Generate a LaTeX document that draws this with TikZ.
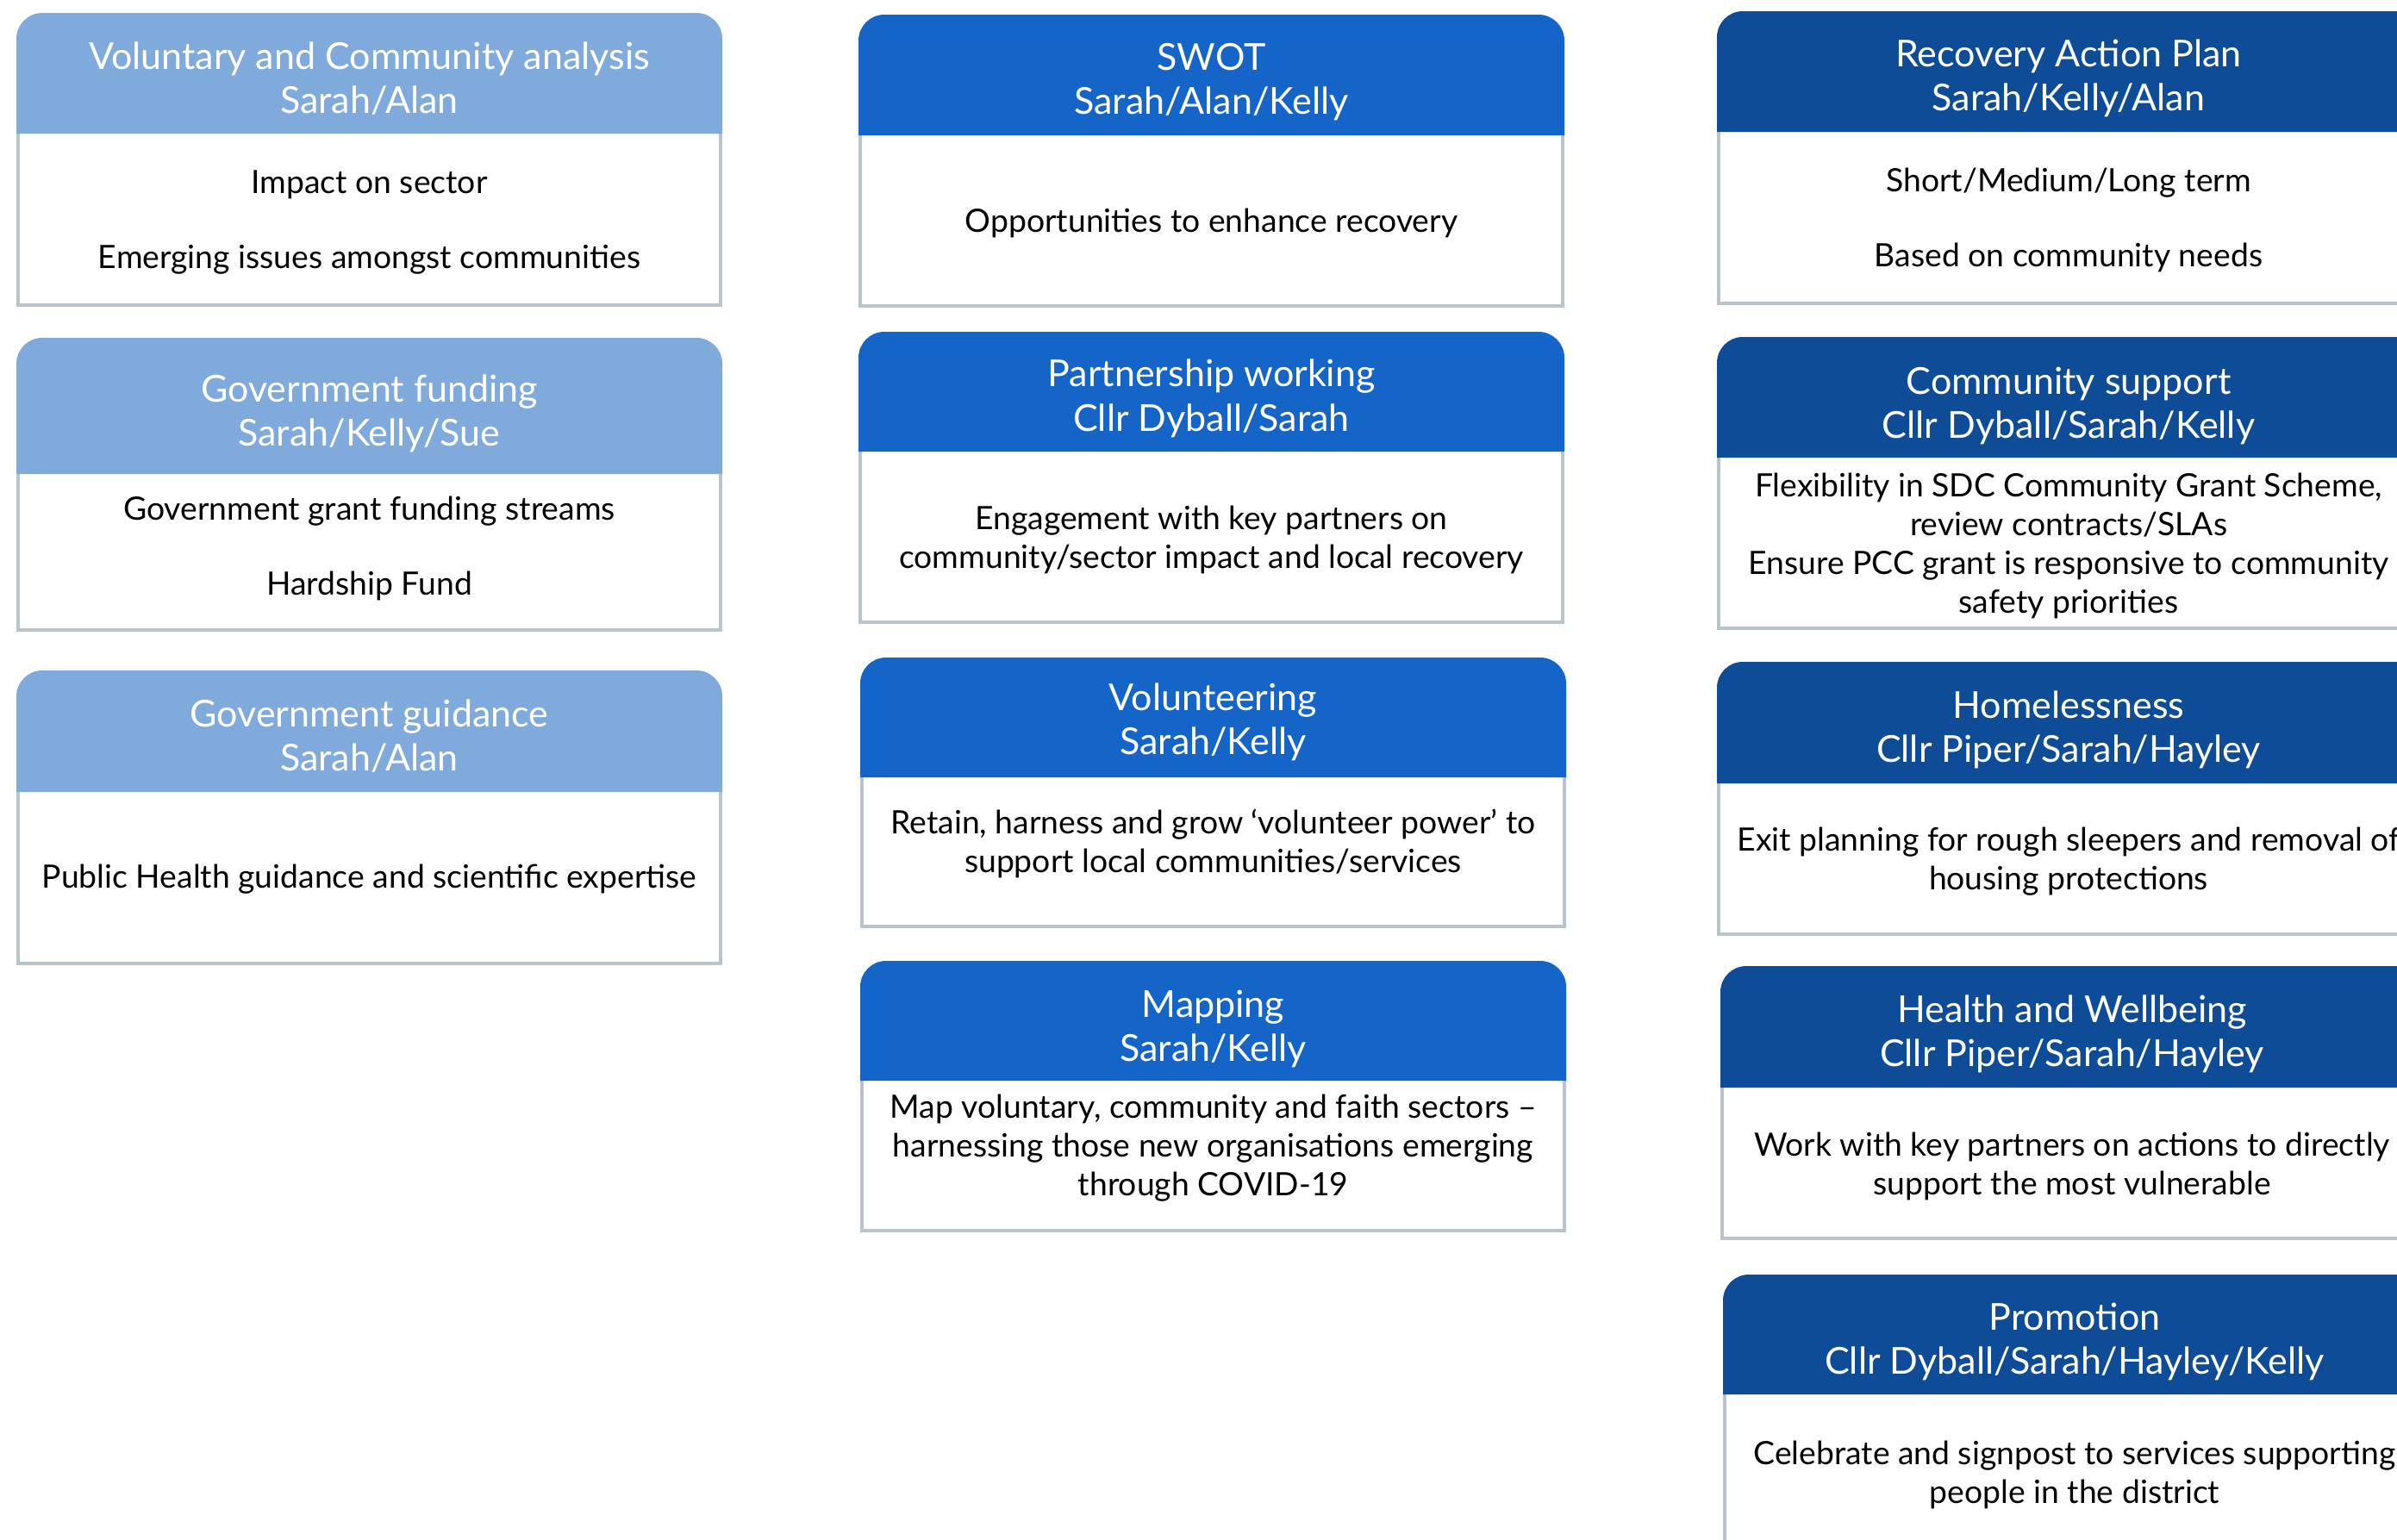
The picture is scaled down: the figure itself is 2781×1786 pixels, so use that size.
\documentclass[tikz,border=0pt]{standalone}
\usepackage{fontspec}
\setmainfont{Lato}
\definecolor{hdrlight}{HTML}{80AADC}
\definecolor{hdrmid}{HTML}{1565C8}
\definecolor{hdrdark}{HTML}{0E4C98}
\definecolor{cardgray}{HTML}{B9C4CA}
\tikzset{
  cardborder/.style={draw=cardgray, line width=4pt},
  titletext/.style={text=white, align=center, inner sep=0pt, font=\fontsize{43}{51.5}\selectfont},
  bodytext/.style={text=black, align=center, inner sep=0pt, font=\fontsize{37.3}{45}\selectfont},
}
% #1 x1, #2 x2, #3 top, #4 header bottom, #5 bottom, #6 header colour
\newcommand\cardbox[6]{%
  \fill[white] (#1,#4) rectangle (#2,#5);
  \draw[cardborder] (#1+2,#4) -- (#1+2,#5-2) -- (#2-2,#5-2) -- (#2-2,#4);
  \fill[#6, rounded corners=30pt] (#1,#4) -- (#1,#3) -- (#2,#3) -- (#2,#4);
}
\begin{document}
\begin{tikzpicture}[x=1pt, y=-1pt]
\useasboundingbox (0,0) rectangle (2781,1786);
\clip (0,0) rectangle (2781,1786);
\fill[white] (0,0) rectangle (2781,1786);

% ---- left column ----
\cardbox{19}{838}{15}{155}{356}{hdrlight}
\node[titletext] (tL1) at (428.5,91) {Voluntary and Community analysis\\Sarah/Alan};
\node[bodytext] (bL1) at (428.5,258) {Impact on sector\\[42pt]Emerging issues amongst communities};

\cardbox{19}{838}{392}{550}{733}{hdrlight}
\node[titletext] (tL2) at (428.5,480) {Government funding\\Sarah/Kelly/Sue};
\node[bodytext] (bL2) at (428.5,636) {Government grant funding streams\\[42pt]Hardship Fund};

\cardbox{19}{838}{778}{919}{1120}{hdrlight}
\node[titletext] (tL3) at (428.5,854) {Government guidance\\Sarah/Alan};
\node[bodytext] (bL3) at (428.5,1020) {Public Health guidance and scientific expertise};

% ---- middle column ----
\cardbox{996}{1815}{17}{157}{357}{hdrmid}
\node[titletext] (tM1) at (1405.5,95) {SWOT\\Sarah/Alan/Kelly};
\node[bodytext] (bM1) at (1405.5,259) {Opportunities to enhance recovery};

\cardbox{996}{1815}{385}{524}{724}{hdrmid}
\node[titletext] (tM2) at (1405.5,462.5) {Partnership working\\Cllr Dyball/Sarah};
\node[bodytext] (bM2) at (1405.5,626.5) {Engagement with key partners on\\community/sector impact and local recovery};

\cardbox{998}{1817}{763}{902}{1077}{hdrmid}
\node[titletext] (tM3) at (1407.5,838) {Volunteering\\Sarah/Kelly};
\node[bodytext] (bM3) at (1407.5,978.5) {Retain, harness and grow ‘volunteer power’ to\\support local communities/services};

\cardbox{998}{1817}{1115}{1254}{1430}{hdrmid}
\node[titletext] (tM4) at (1407.5,1194) {Mapping\\Sarah/Kelly};
\node[bodytext] (bM4) at (1407.5,1332) {Map voluntary, community and faith sectors –\\harnessing those new organisations emerging\\through COVID-19};

% ---- right column ----
\cardbox{1992}{2811}{13}{153}{354}{hdrdark}
\node[titletext] (tR1) at (2400,91) {Recovery Action Plan\\Sarah/Kelly/Alan};
\node[bodytext] (bR1) at (2400,255) {Short/Medium/Long term\\[42pt]Based on community needs};

\cardbox{1992}{2811}{391}{531}{731}{hdrdark}
\node[titletext] (tR2) at (2400,471) {Community support\\Cllr Dyball/Sarah/Kelly};
\node[bodytext] (bR2) at (2400,633.5) {Flexibility in SDC Community Grant Scheme,\\review contracts/SLAs\\Ensure PCC grant is responsive to community\\safety priorities};

\cardbox{1992}{2811}{768}{909}{1086}{hdrdark}
\node[titletext] (tR3) at (2400,847) {Homelessness\\Cllr Piper/Sarah/Hayley};
\node[bodytext] (bR3) at (2400,1000) {Exit planning for rough sleepers and removal of\\housing protections};

\cardbox{1996}{2815}{1121}{1262}{1439}{hdrdark}
\node[titletext] (tR4) at (2404,1200) {Health and Wellbeing\\Cllr Piper/Sarah/Hayley};
\node[bodytext] (bR4) at (2404,1353) {Work with key partners on actions to directly\\support the most vulnerable};

\cardbox{1999}{2818}{1479}{1618}{1900}{hdrdark}
\node[titletext] (tR5) at (2407,1557) {Promotion\\Cllr Dyball/Sarah/Hayley/Kelly};
\node[bodytext] (bR5) at (2407,1711) {Celebrate and signpost to services supporting\\people in the district};
\end{tikzpicture}
\end{document}
